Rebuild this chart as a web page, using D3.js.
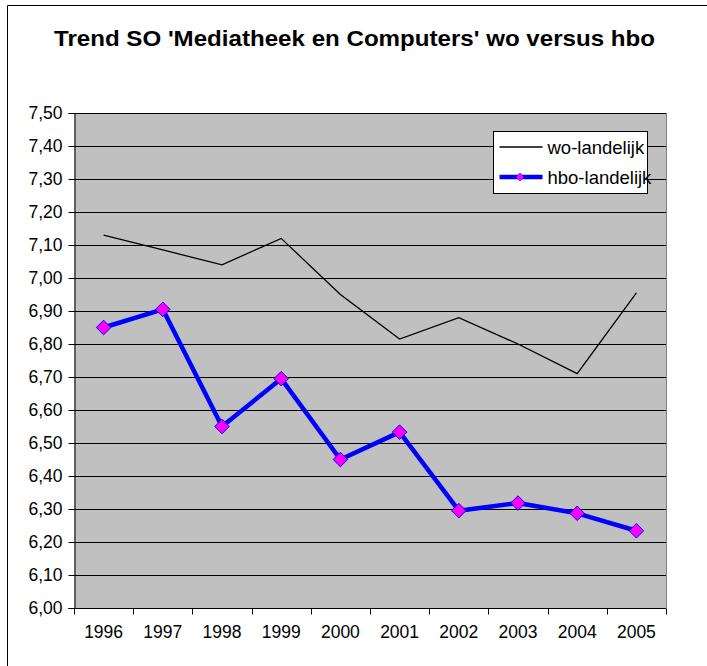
<!DOCTYPE html>
<html>
<head>
<meta charset="utf-8">
<script src="https://cdn.jsdelivr.net/npm/d3@7"></script>
<style>
  body { margin: 0; background: #fff; }
  svg text { font-family: Arial, "Liberation Sans", sans-serif; fill: #000; }
</style>
</head>
<body>
<div id="node"></div>
<script>
// chart data
const years = ["1996", "1997", "1998", "1999", "2000", "2001", "2002", "2003", "2004", "2005"];
const woValues = [7.13, 7.085, 7.04, 7.12, 6.95, 6.815, 6.88, 6.80, 6.71, 6.955];
const hboValues = [6.85, 6.905, 6.55, 6.695, 6.45, 6.533, 6.295, 6.318, 6.287, 6.234];
const yTicks = [6.0, 6.1, 6.2, 6.3, 6.4, 6.5, 6.6, 6.7, 6.8, 6.9, 7.0, 7.1, 7.2, 7.3, 7.4, 7.5];
const seriesNames = ["wo-landelijk", "hbo-landelijk"];
const title = "Trend SO 'Mediatheek en Computers' wo versus hbo";

const W = 707, H = 666;
const margin = { top: 113, right: 41, bottom: 58, left: 74 };
const width = W - margin.left - margin.right;
const height = H - margin.top - margin.bottom;
const labelSize = "17.5px";

const svg = d3.select("#node").append("svg")
    .attr("width", W)
    .attr("height", H);

// outer frame (only top and left edges are visible in the crop)
svg.append("path")
    .attr("d", "M7.5," + H + "V5.5H" + W)
    .attr("fill", "none")
    .attr("stroke", "#000")
    .attr("stroke-width", 1);

svg.append("text")
    .attr("x", 354.5)
    .attr("y", 46)
    .attr("text-anchor", "middle")
    .attr("font-size", "22px")
    .attr("font-weight", "bold")
    .attr("textLength", 601)
    .attr("lengthAdjust", "spacingAndGlyphs")
    .text(title);

const g = svg.append("g")
    .attr("transform", "translate(" + margin.left + "," + margin.top + ")");

const x = d3.scaleBand().domain(years).range([0, width]);
const y = d3.scaleLinear().domain([6.0, 7.5]).range([height, 0]);
const fmt = d => d3.format(".2f")(d).replace(".", ",");

// plot background
g.append("rect")
    .attr("width", width)
    .attr("height", height)
    .attr("fill", "#c0c0c0");

// gridlines
g.append("g")
    .selectAll("line")
    .data(yTicks.slice(1))
    .enter()
    .append("line")
    .attr("x1", 0)
    .attr("x2", width)
    .attr("y1", d => Math.round(y(d)) + 0.5)
    .attr("y2", d => Math.round(y(d)) + 0.5)
    .attr("stroke", "#000");

// right border of plot
g.append("line")
    .attr("x1", width + 0.5).attr("x2", width + 0.5)
    .attr("y1", 0).attr("y2", height)
    .attr("stroke", "#808080");

// Y axis
const yAxis = g.append("g")
    .attr("transform", "translate(0.5,0)")
    .call(d3.axisLeft(y).tickValues(yTicks).tickFormat(fmt).tickSize(6).tickPadding(6));
yAxis.selectAll("text")
    .attr("font-size", labelSize)
    .attr("font-family", "Arial, 'Liberation Sans', sans-serif");
yAxis.select(".domain").attr("stroke", "#000");

// X axis with ticks at category boundaries
const xAxis = g.append("g")
    .attr("transform", "translate(0," + (height + 0.5) + ")");
xAxis.append("line")
    .attr("x1", 0).attr("x2", width)
    .attr("stroke", "#000");
xAxis.selectAll(".tk")
    .data(years.concat(["end"]))
    .enter()
    .append("line")
    .attr("class", "tk")
    .attr("x1", (d, i) => Math.round(i * x.step()) + 0.5)
    .attr("x2", (d, i) => Math.round(i * x.step()) + 0.5)
    .attr("y1", 0).attr("y2", 6)
    .attr("stroke", "#000");
xAxis.selectAll(".lbl")
    .data(years)
    .enter()
    .append("text")
    .attr("class", "lbl")
    .attr("x", d => x(d) + x.bandwidth() / 2)
    .attr("y", 29)
    .attr("text-anchor", "middle")
    .attr("font-size", labelSize)
    .text(d => d);

const cx = d => x(d) + x.bandwidth() / 2;

// wo line
const line = d3.line().x((d, i) => cx(years[i])).y(d => y(d));
g.append("path")
    .datum(woValues)
    .attr("d", line)
    .attr("fill", "none")
    .attr("stroke", "#000")
    .attr("stroke-width", 1.3);

// hbo line
g.append("path")
    .datum(hboValues)
    .attr("d", line)
    .attr("fill", "none")
    .attr("stroke", "#0000ff")
    .attr("stroke-width", 4.5)
    .attr("stroke-linejoin", "round");

const diamond = d3.symbol().type(d3.symbolDiamond2).size(135);
g.append("g")
    .selectAll("path")
    .data(hboValues)
    .enter()
    .append("path")
    .attr("d", diamond)
    .attr("transform", (d, i) => "translate(" + cx(years[i]) + "," + y(d) + ")")
    .attr("fill", "#ff00ff")
    .attr("stroke", "#0000ff")
    .attr("stroke-width", 1);

// legend
const legend = svg.append("g").attr("transform", "translate(493.5,131.5)");
legend.append("rect")
    .attr("width", 154)
    .attr("height", 62)
    .attr("fill", "#fff")
    .attr("stroke", "#000");
seriesNames.forEach((name, i) => {
    const ly = 15.5 + i * 30;
    legend.append("line")
        .attr("x1", 6).attr("x2", 49)
        .attr("y1", ly).attr("y2", ly)
        .attr("stroke", i === 0 ? "#000" : "#0000ff")
        .attr("stroke-width", i === 0 ? 1.3 : 4.5);
    if (i === 1) {
        legend.append("path")
            .attr("d", diamond)
            .attr("transform", "translate(26.5," + ly + ") scale(0.55)")
            .attr("fill", "#ff00ff")
            .attr("stroke", "#0000ff");
    }
    legend.append("text")
        .attr("x", 54)
        .attr("y", ly + 6.5)
        .attr("font-size", "18.5px")
        .text(name);
});
</script>
</body>
</html>
